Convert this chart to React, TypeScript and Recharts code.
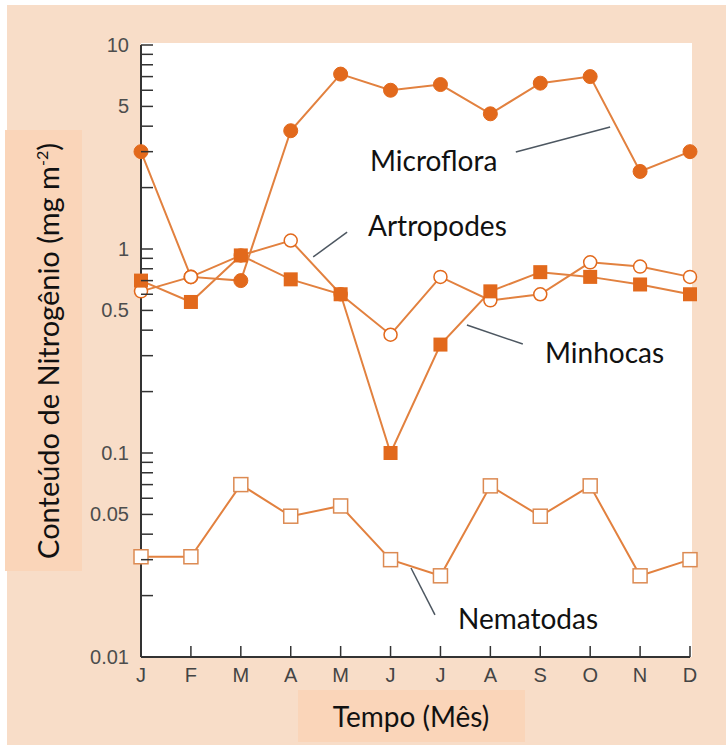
import React from 'react';
import { LineChart, Line, XAxis, YAxis, ReferenceLine } from 'recharts';

const months = ['J', 'F', 'M', 'A', 'M', 'J', 'J', 'A', 'S', 'O', 'N', 'D'];
const microflora = [3.0, 0.73, 0.7, 3.8, 7.2, 6.0, 6.4, 4.6, 6.5, 7.0, 2.4, 3.0];
const artropodes = [0.62, 0.73, 0.93, 1.1, 0.6, 0.38, 0.73, 0.56, 0.6, 0.86, 0.82, 0.73];
const minhocas = [0.7, 0.55, 0.93, 0.71, 0.6, 0.1, 0.34, 0.62, 0.77, 0.73, 0.67, 0.6];
const nematodas = [0.031, 0.031, 0.07, 0.049, 0.055, 0.03, 0.025, 0.069, 0.049, 0.069, 0.025, 0.03];

const yTicks = [
  0.01, 0.02, 0.03, 0.04, 0.05, 0.06, 0.07, 0.08, 0.09,
  0.1, 0.2, 0.3, 0.4, 0.5, 0.6, 0.7, 0.8, 0.9,
  1, 2, 3, 4, 5, 6, 7, 8, 9, 10,
];
const yLabels = [0.01, 0.05, 0.1, 0.5, 1, 5, 10];

const data = months.map((m, i) => ({
  i,
  m,
  microflora: microflora[i],
  artropodes: artropodes[i],
  minhocas: minhocas[i],
  nematodas: nematodas[i],
}));

const ORANGE = '#e2691c';
const LINE = '#e2813f';
const LEADER = '#4d5761';
const PAGE = '#f8ddc8';
const BOX = '#fad5b9';
const TEXT_FONT = 'Lato, "Open Sans", sans-serif';
const AXIS_FONT = '"Liberation Sans", Arial, sans-serif';

const makeDot = (kind: string) => (props: any) => {
  const { cx, cy, index } = props;
  const key = `${kind}-${index}`;
  if (cx == null || cy == null) return <g key={key} />;
  switch (kind) {
    case 'filledCircle':
      return <circle key={key} cx={cx} cy={cy} r={7} fill={ORANGE} stroke={ORANGE} strokeWidth={1} />;
    case 'openCircle':
      return <circle key={key} cx={cx} cy={cy} r={6.5} fill="#fff" stroke={ORANGE} strokeWidth={1.5} />;
    case 'filledSquare':
      return <rect key={key} x={cx - 7} y={cy - 7} width={14} height={14} fill={ORANGE} />;
    default:
      return <rect key={key} x={cx - 7} y={cy - 7} width={14} height={14} fill="#fff" stroke="#dc8a52" strokeWidth={1.5} />;
  }
};

const YTick = (props: any) => {
  const { x, y, payload } = props;
  const v = payload.value;
  const labeled = yLabels.some((l) => Math.abs(l - v) < 1e-9);
  return (
    <g>
      <line x1={x} x2={x + 12} y1={y} y2={y} stroke="#333" strokeWidth={1.5} />
      {labeled && (
        <text x={x - 12} y={y} dy={7} textAnchor="end" fontSize={20} fill="#4d4d4d" fontFamily={AXIS_FONT}>
          {String(v)}
        </text>
      )}
    </g>
  );
};

const XTick = (props: any) => {
  const { x, y, payload } = props;
  return (
    <g>
      <line x1={x} x2={x} y1={y} y2={y - 11} stroke="#333" strokeWidth={1.5} />
      <text x={x} y={y} dy={25} textAnchor="middle" fontSize={20} fill="#444" fontFamily={AXIS_FONT}>
        {months[payload.value]}
      </text>
    </g>
  );
};

const noteStyle = (left: number, top: number): React.CSSProperties => ({
  position: 'absolute',
  left,
  top,
  fontFamily: TEXT_FONT,
  fontSize: 28,
  color: '#111',
  whiteSpace: 'nowrap',
  lineHeight: 1,
});

export default function App() {
  return (
    <div style={{ position: 'absolute', left: 0, top: 0, width: 726, height: 745, background: '#fff', overflow: 'hidden' }}>
      <div style={{ position: 'absolute', left: 7, top: 5, right: 0, bottom: 0, background: PAGE }} />
      <div style={{ position: 'absolute', left: 141, top: 43, width: 551, height: 614, background: '#fff' }} />
      <div style={{ position: 'absolute', left: 5, top: 130, width: 77, height: 441, background: BOX }} />
      <div style={{ position: 'absolute', left: 298, top: 690, width: 227, height: 52, background: BOX }} />

      <div style={{ position: 'absolute', left: 0, top: 0 }}>
        <LineChart width={726} height={745} data={data} margin={{ top: 45, right: 36, bottom: 58, left: 81 }}>
          <XAxis
            type="number"
            dataKey="i"
            domain={[0, 11]}
            ticks={months.map((_, i) => i)}
            height={30}
            tickSize={0}
            tickMargin={0}
            tick={<XTick />}
            axisLine={{ stroke: '#333', strokeWidth: 2 }}
            tickLine={false}
          />
          <YAxis
            scale="log"
            domain={[0.01, 10]}
            allowDataOverflow
            ticks={yTicks}
            interval={0}
            width={60}
            tickSize={0}
            tickMargin={0}
            tick={<YTick />}
            axisLine={{ stroke: '#333', strokeWidth: 2 }}
            tickLine={false}
          />
          <ReferenceLine segment={[{ x: 7.51, y: 2.99 }, { x: 9.4, y: 3.96 }]} stroke={LEADER} strokeWidth={1.5} ifOverflow="visible" />
          <ReferenceLine segment={[{ x: 3.45, y: 0.914 }, { x: 4.13, y: 1.21 }]} stroke={LEADER} strokeWidth={1.5} ifOverflow="visible" />
          <ReferenceLine segment={[{ x: 6.53, y: 0.424 }, { x: 7.65, y: 0.342 }]} stroke={LEADER} strokeWidth={1.5} ifOverflow="visible" />
          <ReferenceLine segment={[{ x: 5.41, y: 0.0273 }, { x: 5.89, y: 0.0161 }]} stroke={LEADER} strokeWidth={1.5} ifOverflow="visible" />
          <Line type="linear" dataKey="nematodas" stroke={LINE} strokeWidth={2} dot={makeDot('openSquare')} isAnimationActive={false} />
          <Line type="linear" dataKey="microflora" stroke={LINE} strokeWidth={2} dot={makeDot('filledCircle')} isAnimationActive={false} />
          <Line type="linear" dataKey="artropodes" stroke={LINE} strokeWidth={2} dot={makeDot('openCircle')} isAnimationActive={false} />
          <Line type="linear" dataKey="minhocas" stroke={LINE} strokeWidth={2} dot={makeDot('filledSquare')} isAnimationActive={false} />
        </LineChart>
      </div>

      <div style={noteStyle(370, 146)}>Microflora</div>
      <div style={noteStyle(368, 211)}>Artropodes</div>
      <div style={noteStyle(545, 338)}>Minhocas</div>
      <div style={noteStyle(458, 604)}>Nematodas</div>

      <div
        style={{
          position: 'absolute',
          left: 47,
          top: 351,
          transform: 'translate(-50%, -50%) rotate(-90deg)',
          fontFamily: TEXT_FONT,
          fontSize: 29,
          color: '#111',
          whiteSpace: 'nowrap',
          lineHeight: 1,
        }}
      >
        Conteúdo de Nitrogênio (mg m<sup style={{ fontSize: 16 }}>-2</sup>)
      </div>
      <div style={{ ...noteStyle(0, 0), left: 411, top: 716, transform: 'translate(-50%, -50%)' }}>Tempo (Mês)</div>
    </div>
  );
}
